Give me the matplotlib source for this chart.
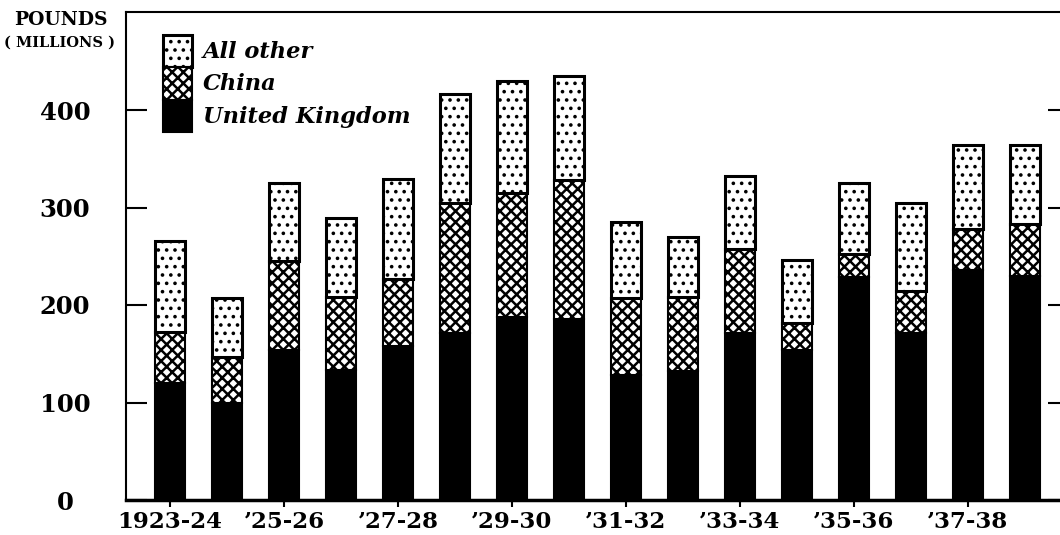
import numpy as np
import matplotlib.pyplot as plt
from matplotlib.patches import Rectangle

# values in millions of pounds
years = ["1923-24", "1924-25", "1925-26", "1926-27", "1927-28", "1928-29",
         "1929-30", "1930-31", "1931-32", "1932-33", "1933-34", "1934-35",
         "1935-36", "1936-37", "1937-38", "1938-39"]
uk = [120, 100, 154, 133, 158, 171, 188, 186, 128, 132, 171, 154, 229, 171, 236, 230]
china = [52, 47, 91, 75, 69, 134, 127, 142, 79, 76, 86, 28, 23, 43, 42, 53]
other = [94, 60, 80, 81, 102, 111, 115, 107, 78, 62, 75, 64, 73, 91, 86, 81]

tick_pos = [0, 2, 4, 6, 8, 10, 12, 14]
tick_labels = ["1923-24", "\u201925-26", "\u201927-28", "\u201929-30",
               "\u201931-32", "\u201933-34", "\u201935-36", "\u201937-38"]
yticks = [0, 100, 200, 300, 400]

plt.rcParams['font.family'] = 'DejaVu Serif'
plt.rcParams['font.weight'] = 'bold'

fig = plt.figure(figsize=(10.6, 5.35), dpi=100)
W, H = 1060, 535
left, right, bottom, top = 126, 1069, 500, 12
ax = fig.add_axes([left / W, 1 - bottom / H, (right - left) / W, (bottom - top) / H])

x = np.arange(len(years))
uk = np.array(uk)
china = np.array(china)
other = np.array(other)
w = 0.53

# style per series: face, hatch, edge width, hatch line width
styles = {
    'United Kingdom': dict(color='black', hatch=None, lw=1.5, hlw=1.0),
    'China': dict(color='white', hatch='xxx', lw=1.5, hlw=1.8),
    'All other': dict(color='white', hatch='..', lw=2.2, hlw=1.4),
}
series = [('United Kingdom', uk, 0), ('China', china, uk), ('All other', other, uk + china)]

for name, vals, base in series:
    st = styles[name]
    with plt.rc_context({'hatch.linewidth': st['hlw']}):
        ax.bar(x, vals, w, bottom=base, color=st['color'], edgecolor='black',
               linewidth=st['lw'], hatch=st['hatch'])

x0 = -44 / 57
ax.set_xlim(x0, x0 + (right - left) / 57)
ax.set_ylim(0, (bottom - top) / 0.975)

ax.set_xticks(tick_pos)
ax.set_xticklabels(tick_labels, fontsize=16.5, fontweight='bold')
ax.set_yticks(yticks)
ax.set_yticklabels([str(v) for v in yticks], fontsize=17.5, fontweight='bold')
for lab in ax.get_yticklabels():
    lab.set_horizontalalignment('center')

ax.tick_params(axis='x', direction='out', length=5, width=1.5, pad=3)
ax.tick_params(axis='y', direction='in', length=15, width=1.5, left=True, right=True, pad=44)

for s in ['left', 'right', 'top']:
    ax.spines[s].set_linewidth(1.5)
ax.spines['bottom'].set_linewidth(2.5)

fig.text(61 / W, 1 - 20 / H, "POUNDS", ha='center', va='center', fontsize=13.5, fontweight='bold')
fig.text(59 / W, 1 - 43 / H, "( MILLIONS )", ha='center', va='center', fontsize=10.5, fontweight='bold')

# legend drawn as one stacked key column, top to bottom
legend_order = ['All other', 'China', 'United Kingdom']
key_x, key_w = 163, 29
key_top, key_h = 35, 32.3
for i, name in enumerate(legend_order):
    st = styles[name]
    y_top = key_top + i * key_h
    with plt.rc_context({'hatch.linewidth': st['hlw']}):
        r = Rectangle((key_x / W, 1 - (y_top + key_h) / H), key_w / W, key_h / H,
                      transform=fig.transFigure, facecolor=st['color'], edgecolor='black',
                      linewidth=st['lw'], hatch=st['hatch'])
    fig.add_artist(r)
    fig.text(203 / W, 1 - (y_top + key_h / 2 + 1) / H, name, ha='left', va='center',
             fontsize=16.2, fontweight='bold', fontstyle='italic')

fig.savefig('out.png', dpi=100)
